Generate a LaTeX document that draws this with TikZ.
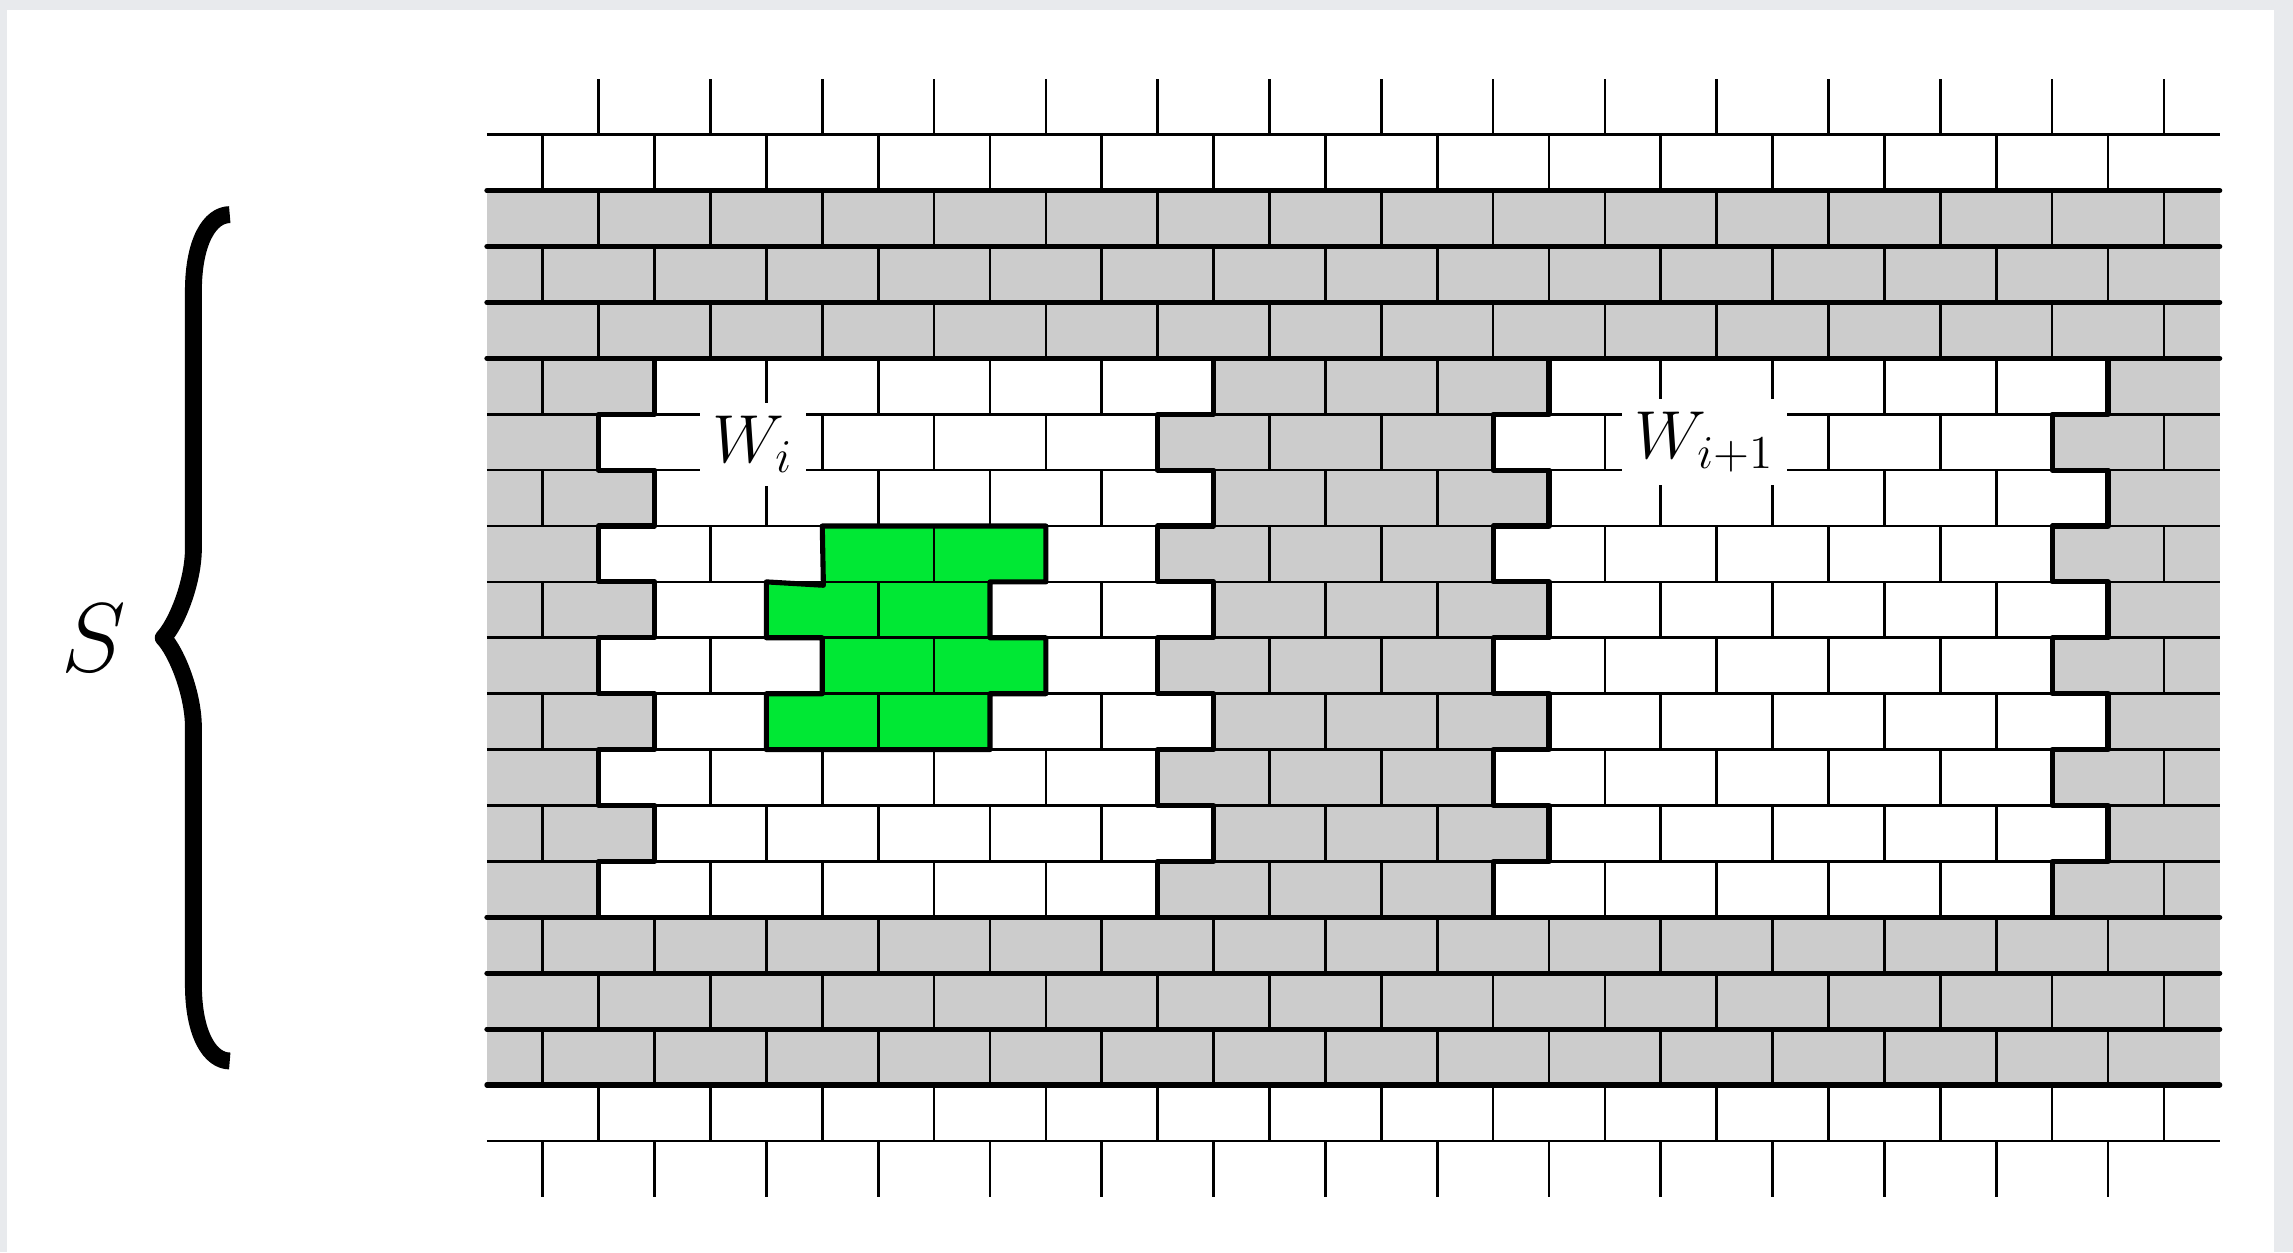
\documentclass[tikz,border=0pt]{standalone}
\usepackage{amsmath,amssymb}
\usepackage{tikz}

\definecolor{wallgray}{HTML}{CCCCCC}
\definecolor{brickgreen}{RGB}{0,232,52}
\definecolor{framegray}{HTML}{E8EAED}

% window and green patch outlines (units of half a brick)
\newcommand{\windowoutline}{(3,14) -- (13,14) -- (13,13) -- (12,13) -- (12,12) -- (13,12) -- (13,11) -- (12,11) -- (12,10) -- (13,10) -- (13,9) -- (12,9) -- (12,8) -- (13,8) -- (13,7) -- (12,7) -- (12,6) -- (13,6) -- (13,5) -- (12,5) -- (12,4) -- (2,4) -- (2,5) -- (3,5) -- (3,6) -- (2,6) -- (2,7) -- (3,7) -- (3,8) -- (2,8) -- (2,9) -- (3,9) -- (3,10) -- (2,10) -- (2,11) -- (3,11) -- (3,12) -- (2,12) -- (2,13) -- (3,13) -- cycle}
\newcommand{\greenoutline}{(6,11) -- (10,11) -- (10,10) -- (9,10) -- (9,9) -- (10,9) -- (10,8) -- (9,8) -- (9,7) -- (5,7) -- (5,8) -- (6,8) -- (6,9) -- (5,9) -- (5,10) -- (6.02,9.94) -- cycle}

\begin{document}
\begin{tikzpicture}[x=0.5cm, y=0.5cm,
    joint/.style={line width=0.7pt},
    thickline/.style={line width=1.3pt, line cap=round, line join=round},
    bracestroke/.style={line width=4.3pt, line cap=butt, line join=round},
    winlabel/.style={fill=white, inner sep=0.3333em, font={\fontsize{18.5}{22}\selectfont}}]

% Frame
\fill[framegray] (-8.71,-1.99) rectangle (32.31,20.41);
\fill[white] (-8.58,-1.99) rectangle (31.97,20.23);
\useasboundingbox (-8.71,-1.99) rectangle (32.31,20.41);

% Gray wall
\fill[wallgray] (0,1) rectangle (31,17);

% Windows
\foreach \dx in {0,16} {
  \begin{scope}[shift={(\dx,0)}]
    \fill[white] \windowoutline;
  \end{scope}
}

% Green patch
\fill[brickgreen] \greenoutline;

% Horizontal joints
\foreach \j in {0,...,18}
  \draw[joint] (0,\j) -- (31,\j);

% Vertical joints, shifted every course
\foreach \j in {-1,...,18} {
  \pgfmathtruncatemacro{\xs}{2-mod(\j+2,2)}
  \pgfmathtruncatemacro{\xn}{\xs+2}
  \foreach \x in {\xs,\xn,...,30}
    \draw[joint] (\x,\j) -- (\x,\j+1);
}

% Thick courses
\foreach \j in {1,2,3,4,14,15,16,17}
  \draw[thickline] (0,\j) -- (31,\j);

% Window borders
\foreach \dx in {0,16} {
  \begin{scope}[shift={(\dx,0)}]
    \draw[thickline] \windowoutline;
  \end{scope}
}

% Green border
\draw[thickline] \greenoutline;

% Labels
\node[winlabel] (Wi) at (4.76,12.46) {$W_i$};
\node[winlabel] (Wnext) at (21.78,12.5) {$W_{i+1}$};

% Brace
\node[font={\fontsize{24}{28}\selectfont}] (S) at (-7.04,9) {$S$};
\draw[bracestroke] (-4.60,16.57) .. controls (-4.95,16.57) and (-5.25,16.1) .. (-5.25,15.2)
  -- (-5.25,10.6) .. controls (-5.25,10.0) and (-5.55,9.25) .. (-5.79,9)
  .. controls (-5.55,8.75) and (-5.25,8.0) .. (-5.25,7.4)
  -- (-5.25,2.8) .. controls (-5.25,1.9) and (-4.95,1.43) .. (-4.60,1.43);

\end{tikzpicture}
\end{document}
